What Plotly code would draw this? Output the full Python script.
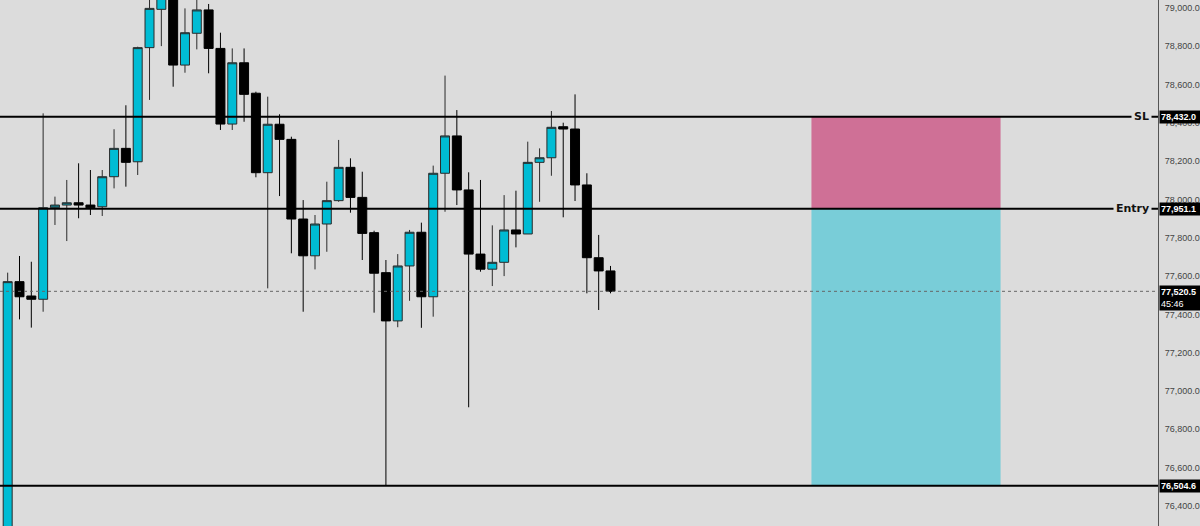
import plotly.graph_objects as go

# ---- data ----
candle_idx = list(range(1, 53))
opens = [76150, 77571, 77496, 77479, 77957, 77971, 77983, 77971, 77962, 78119,
         78267, 78197, 78793, 78993, 79100, 78702, 78868, 78990, 78789, 78394,
         78714, 78555, 78140, 78393, 78314, 77898, 77706, 77872, 77994, 78168,
         78011, 77827, 77618, 77366, 77653, 77829, 77492, 78137, 78332, 78050,
         77715, 77636, 77672, 77841, 77820, 78194, 78218, 78380, 78368, 78076,
         77696, 77627]
highs = [77618, 77705, 77675, 78450, 78015, 78102, 78189, 78154, 78154, 78367,
         78492, 78798, 79080, 79120, 79140, 78998, 79060, 79021, 78871, 78789,
         78789, 78563, 78537, 78445, 78328, 77997, 77919, 78093, 78311, 78215,
         78145, 77837, 77684, 77715, 77841, 77879, 78177, 78647, 78467, 78142,
         78102, 77865, 78023, 78046, 78302, 78267, 78462, 78401, 78549, 78137,
         77815, 77653]
lows = [76000, 77374, 77331, 77414, 77867, 77783, 77902, 77919, 77914, 78058,
        78067, 78128, 78520, 78801, 78589, 78662, 78784, 78659, 78363, 78363,
        78406, 78116, 77536, 78018, 77719, 77414, 77635, 77727, 77988, 77931,
        77684, 77409, 76505, 77333, 77471, 77330, 77388, 77936, 77971, 76915,
        77623, 77548, 77600, 77750, 77820, 77988, 78124, 77907, 77992, 77510,
        77423, 77510]
closes = [77571, 77492, 77479, 77957, 77971, 77983, 77971, 77957, 78119, 78267,
          78194, 78793, 78998, 79090, 78702, 78871, 78990, 78789, 78394, 78714,
          78549, 78140, 78393, 78314, 77898, 77706, 77872, 77994, 78168, 78011,
          77823, 77615, 77366, 77653, 77829, 77492, 78137, 78332, 78050, 77715,
          77636, 77672, 77841, 77820, 78194, 78218, 78377, 78368, 78076, 77696,
          77627, 77520.5]

SL = 78432.0
ENTRY = 77951.1
TARGET = 76504.6
LAST = 77520.5
TIMER = "45:46"
y_ticks = list(range(76400, 79001, 200))

# ---- layout constants ----
BG = "#DCDCDC"
UP = "#00BCD4"
RR_X0, RR_X1 = 69, 85   # risk/reward box, in candle-index units

fig = go.Figure()
fig.add_trace(go.Candlestick(
    x=candle_idx, open=opens, high=highs, low=lows, close=closes,
    increasing=dict(fillcolor=UP, line=dict(color="#2a2a2a", width=1)),
    decreasing=dict(fillcolor="#000000", line=dict(color="#000000", width=1)),
    whiskerwidth=0, showlegend=False, hoverinfo="skip",
))

shapes = [
    dict(type="rect", xref="x", yref="y", x0=RR_X0, x1=RR_X1, y0=ENTRY, y1=SL,
         fillcolor="#CF7096", line=dict(width=0), layer="below"),
    dict(type="rect", xref="x", yref="y", x0=RR_X0, x1=RR_X1, y0=TARGET, y1=ENTRY,
         fillcolor="#79CDD8", line=dict(width=0), layer="below"),
    dict(type="line", xref="paper", yref="y", x0=0, x1=1, y0=LAST, y1=LAST,
         line=dict(color="#666666", width=1, dash="dot")),
]
for lvl in (SL, ENTRY, TARGET):
    shapes.append(dict(type="line", xref="paper", yref="y", x0=0, x1=1, y0=lvl, y1=lvl,
                       line=dict(color="#000000", width=2)))

annotations = []
for lvl, name in ((SL, "SL"), (ENTRY, "Entry")):
    annotations.append(dict(
        xref="paper", yref="y", x=1, y=lvl, xanchor="right", yanchor="middle",
        xshift=-6, text=f"<b>{name}</b>", showarrow=False,
        font=dict(family="DejaVu Sans", size=11, color="#111111"),
        bgcolor=BG, borderpad=2,
    ))
for lvl in (SL, ENTRY, TARGET):
    annotations.append(dict(
        xref="paper", yref="y", x=1, y=lvl, xanchor="left", yanchor="middle",
        xshift=1, text=f"<b>{lvl:,.1f}</b>", showarrow=False, align="left",
        font=dict(family="Liberation Sans", size=9, color="#ffffff"),
        bgcolor="#000000", borderpad=1, width=40, height=10,
    ))
annotations.append(dict(
    xref="paper", yref="y", x=1, y=LAST, xanchor="left", yanchor="top",
    xshift=1, yshift=6, text=f"<b>{LAST:,.1f}</b><br>{TIMER}", showarrow=False,
    align="left", font=dict(family="Liberation Sans", size=9, color="#ffffff"),
    bgcolor="#000000", borderpad=1, width=40,
))

fig.update_layout(
    width=1200, height=526,
    margin=dict(l=0, r=42, t=0, b=0),
    paper_bgcolor=BG, plot_bgcolor=BG,
    boxgap=0.24, boxgroupgap=0,
    shapes=shapes, annotations=annotations,
    xaxis=dict(range=[0.35, 98.32], showgrid=False, zeroline=False,
               showticklabels=False, rangeslider=dict(visible=False), fixedrange=True),
    yaxis=dict(range=[76295, 79041.8], side="right", tickvals=y_ticks,
               tickformat=",.1f", showgrid=False, zeroline=False,
               showline=True, linecolor="#555555", linewidth=1, ticks="",
               tickfont=dict(family="Liberation Sans", size=9, color="#444444"),
               ticklabelstandoff=4),
    showlegend=False,
)

fig.write_html("out.html", config={"displayModeBar": False},
               post_script="document.body.style.margin='0';document.body.style.overflow='hidden';")
